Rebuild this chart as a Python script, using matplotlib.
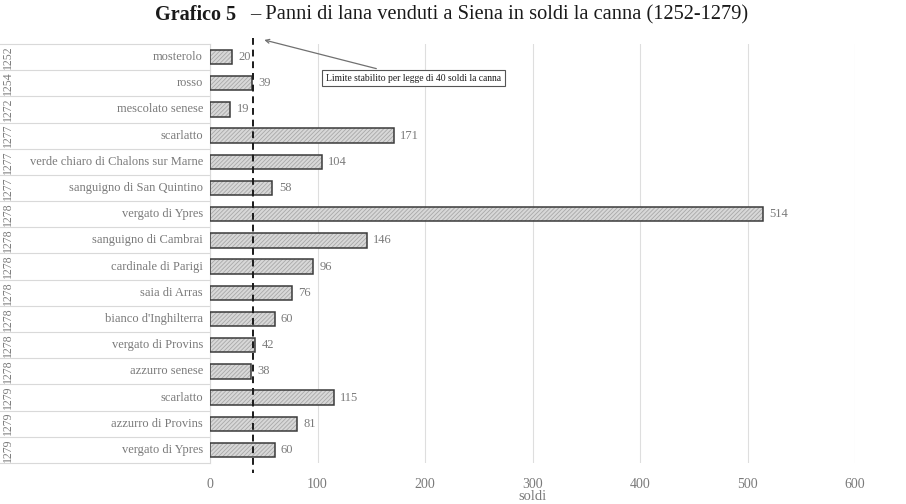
import numpy as np
import matplotlib.pyplot as plt

plt.rcParams['font.family'] = ['Liberation Serif', 'DejaVu Serif']
plt.rcParams['hatch.linewidth'] = 0.6

years = ["1252", "1254", "1272", "1277", "1277", "1277", "1278", "1278",
         "1278", "1278", "1278", "1278", "1278", "1279", "1279", "1279"]
cloths = ["mosterolo", "rosso", "mescolato senese", "scarlatto",
          "verde chiaro di Chalons sur Marne", "sanguigno di San Quintino",
          "vergato di Ypres", "sanguigno di Cambrai", "cardinale di Parigi",
          "saia di Arras", "bianco d'Inghilterra", "vergato di Provins",
          "azzurro senese", "scarlatto", "azzurro di Provins", "vergato di Ypres"]
soldi = [20, 39, 19, 171, 104, 58, 514, 146, 96, 76, 60, 42, 38, 115, 81, 60]
limit = 40
xticks = [0, 100, 200, 300, 400, 500, 600]

gray_txt = '#7a7a7a'

fig = plt.figure(figsize=(9.06, 5.04), dpi=100)
ax = fig.add_axes([210/906, 1-463/504, 645/906, 419/504])

y = np.arange(len(soldi))
ax.barh(y, soldi, height=0.55, color='#d8d8d8', hatch='////////',
        edgecolor='#a8a8a8', linewidth=0, zorder=2)
ax.barh(y, soldi, height=0.55, fill=False, edgecolor='#3a3a3a',
        linewidth=1.1, zorder=3)
for yi, v in zip(y, soldi):
    ax.text(v + 6, yi, str(v), va='center', ha='left', fontsize=9,
            color=gray_txt, zorder=4)

ax.set_xlim(0, 600)
ax.set_ylim(len(soldi) - 0.5, -0.5)
ax.set_xticks(xticks)
ax.set_xticklabels([str(t) for t in xticks], fontsize=10, color=gray_txt)
ax.tick_params(axis='x', length=0, pad=11)
ax.set_yticks([])
ax.grid(axis='x', color='#dedede', linewidth=0.8, zorder=0)
for s in ['top', 'right', 'bottom']:
    ax.spines[s].set_visible(False)
ax.spines['left'].set_color('#d9d9d9')
ax.spines['left'].set_linewidth(0.8)
fig.text(0.5 * (210 + 855) / 906, 1 - 496/504, "soldi", fontsize=10.5,
         color=gray_txt, ha='center', va='center')

# category table on the left
trans = ax.get_yaxis_transform()
x_left = -210/645
for b in np.arange(len(soldi) + 1) - 0.5:
    ax.plot([x_left, 0], [b, b], transform=trans, color='#d9d9d9',
            linewidth=0.8, clip_on=False)
for yi, (yr, c) in enumerate(zip(years, cloths)):
    ax.text(-7/645, yi, c, transform=trans, ha='right', va='center',
            fontsize=9, color=gray_txt)
    ax.text(x_left + 8/645, yi, yr, transform=trans, ha='center',
            va='center', rotation=90, fontsize=8.5, color=gray_txt)

# legal limit
ax.plot([limit, limit], [-0.72, len(soldi) - 0.1], color='#1a1a1a',
        linestyle=(0, (3.5, 2.5)), linewidth=1.4, clip_on=False, zorder=5)
ax.annotate("Limite stabilito per legge di 40 soldi la canna",
            xy=(48, -0.68), xytext=(189, 0.8), fontsize=6.9, color='#1a1a1a',
            ha='center', va='center', annotation_clip=False,
            bbox=dict(boxstyle='square,pad=0.4', fc='white', ec='#555555', lw=0.8),
            arrowprops=dict(arrowstyle='->', color='#707070', lw=0.9))

# title: bold part followed by normal part
fig.text(155/906, 1-15/504, "Grafico 5", fontsize=14.5, fontweight='bold',
         ha='left', va='center', color='#1a1a1a')
fig.text(250/906, 1-15/504,
         "\u2013 Panni di lana venduti a Siena in soldi la canna (1252-1279)",
         fontsize=14.7, ha='left', va='center', color='#1a1a1a')

fig.savefig("out.png", dpi=100)
